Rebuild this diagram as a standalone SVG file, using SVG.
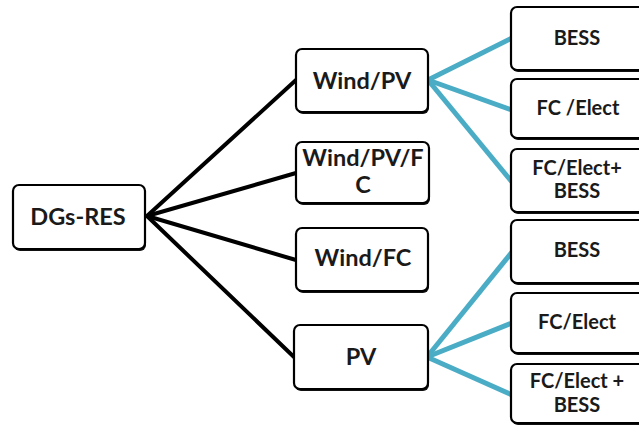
<svg xmlns="http://www.w3.org/2000/svg" width="639" height="426" viewBox="0 0 639 426">
  <style>
    .shadow { fill: #111; stroke: none; }
    .box { fill: #fff; stroke: #000; stroke-width: 2.2; }
    .lbl { font-family: "Lato", "Liberation Sans", sans-serif; font-weight: bold; fill: #1a1a1a; text-anchor: middle; }
    .big { font-size: 23.5px; }
    .small { font-size: 20px; }
    .trunk { stroke: #000; stroke-width: 4; stroke-linecap: round; fill: none; }
    .branch { stroke: #4bacc6; stroke-width: 5; stroke-linecap: butt; fill: none; }
  </style>
  <rect width="639" height="426" fill="#fff"/>

  <g id="connectors">
    <line class="trunk" x1="147" y1="216" x2="296" y2="80"/>
    <line class="trunk" x1="147" y1="216" x2="296" y2="173"/>
    <line class="trunk" x1="147" y1="216" x2="296" y2="260"/>
    <line class="trunk" x1="147" y1="216" x2="294" y2="357"/>
    <line class="branch" x1="428" y1="80" x2="512" y2="38"/>
    <line class="branch" x1="428" y1="80" x2="512" y2="110"/>
    <line class="branch" x1="428" y1="80" x2="512" y2="182"/>
    <line class="branch" x1="427" y1="357" x2="512" y2="252"/>
    <line class="branch" x1="427" y1="357" x2="512" y2="323"/>
    <line class="branch" x1="427" y1="357" x2="512" y2="395"/>
  </g>

  <g id="dgs-res">
    <rect class="shadow" x="14" y="187" width="132" height="64" rx="6"/>
    <rect class="box" x="13" y="185" width="132" height="64" rx="6"/>
    <text class="lbl big" x="78" y="225" font-size="24.5">DGs-RES</text>
  </g>

  <g id="wind-pv">
    <rect class="shadow" x="297" y="51" width="132" height="63" rx="6"/>
    <rect class="box" x="296" y="49" width="132" height="63" rx="6"/>
    <text class="lbl big" x="362" y="89">Wind/PV</text>
  </g>

  <g id="wind-pv-fc">
    <rect class="shadow" x="297" y="144" width="133" height="61" rx="6"/>
    <rect class="box" x="296" y="142" width="133" height="61" rx="6"/>
    <text class="lbl big" x="363" y="166">Wind/PV/F</text>
    <text class="lbl big" x="363" y="193">C</text>
  </g>

  <g id="wind-fc">
    <rect class="shadow" x="297" y="230" width="132" height="63" rx="6"/>
    <rect class="box" x="296" y="228" width="132" height="63" rx="6"/>
    <text class="lbl big" x="363" y="266">Wind/FC</text>
  </g>

  <g id="pv">
    <rect class="shadow" x="295" y="327" width="134" height="64" rx="6"/>
    <rect class="box" x="294" y="325" width="134" height="64" rx="6"/>
    <text class="lbl big" x="361" y="365">PV</text>
  </g>

  <g id="wind-pv-bess">
    <rect class="shadow" x="512" y="9" width="140" height="63" rx="6"/>
    <rect class="box" x="511" y="7" width="140" height="63" rx="6"/>
    <text class="lbl small" x="577" y="45">BESS</text>
  </g>

  <g id="wind-pv-fc-elect">
    <rect class="shadow" x="512" y="81" width="140" height="59" rx="6"/>
    <rect class="box" x="511" y="79" width="140" height="59" rx="6"/>
    <text class="lbl small" x="578" y="115">FC /Elect</text>
  </g>

  <g id="wind-pv-fc-elect-bess">
    <rect class="shadow" x="512" y="151" width="140" height="63" rx="6"/>
    <rect class="box" x="511" y="149" width="140" height="63" rx="6"/>
    <text class="lbl small" x="577" y="175">FC/Elect+</text>
    <text class="lbl small" x="577" y="198">BESS</text>
  </g>

  <g id="pv-bess">
    <rect class="shadow" x="512" y="222" width="140" height="63" rx="6"/>
    <rect class="box" x="511" y="220" width="140" height="63" rx="6"/>
    <text class="lbl small" x="577" y="257">BESS</text>
  </g>

  <g id="pv-fc-elect">
    <rect class="shadow" x="512" y="295" width="140" height="60" rx="6"/>
    <rect class="box" x="511" y="293" width="140" height="60" rx="6"/>
    <text class="lbl small" x="577" y="329">FC/Elect</text>
  </g>

  <g id="pv-fc-elect-bess">
    <rect class="shadow" x="512" y="366" width="140" height="59" rx="6"/>
    <rect class="box" x="511" y="364" width="140" height="59" rx="6"/>
    <text class="lbl small" x="577" y="388">FC/Elect +</text>
    <text class="lbl small" x="577" y="412">BESS</text>
  </g>
</svg>
